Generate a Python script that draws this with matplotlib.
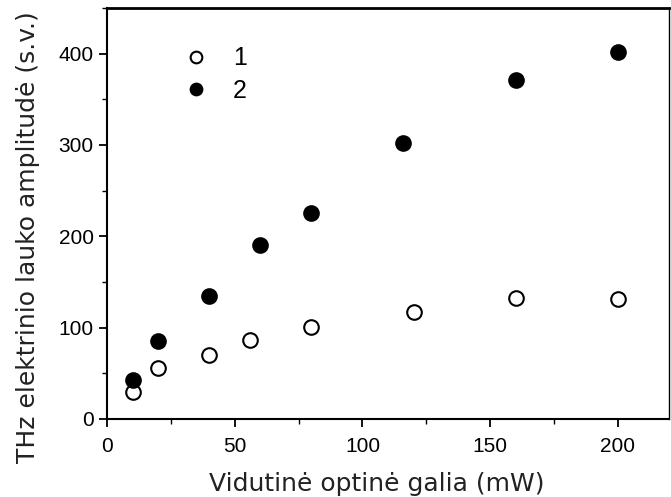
import matplotlib
matplotlib.use('Agg')
import matplotlib.pyplot as plt
from matplotlib.ticker import MultipleLocator

plt.rcParams['font.family'] = ['Liberation Sans', 'DejaVu Sans']

# duomenys
galia_1 = [10, 20, 40, 56, 80, 120, 160, 200]
amplitude_1 = [30, 56, 70, 86, 101, 117, 132, 131]

galia_2 = [10, 20, 40, 60, 80, 116, 160, 200]
amplitude_2 = [43, 85, 135, 191, 226, 302, 371, 402]

fig = plt.figure(figsize=(6.71, 4.97), dpi=100)
ax = fig.add_axes([107 / 671, 78 / 497, (669 - 107) / 671, (419 - 8) / 497])

ax.plot(galia_1, amplitude_1, 'o', ms=10.5, mfc='white', mec='black', mew=1.5,
        linestyle='none', label='1')
ax.plot(galia_2, amplitude_2, 'o', ms=10.5, mfc='black', mec='black', mew=1.5,
        linestyle='none', label='2')

ax.set_xlim(0, 220)
ax.set_ylim(0, 450)
ax.xaxis.set_major_locator(MultipleLocator(50))
ax.xaxis.set_minor_locator(MultipleLocator(25))
ax.yaxis.set_major_locator(MultipleLocator(100))
ax.yaxis.set_minor_locator(MultipleLocator(50))
ax.tick_params(which='major', direction='out', length=6, width=1.3, labelsize=15)
ax.tick_params(axis='x', which='major', pad=7)
ax.tick_params(which='minor', direction='out', length=3.5, width=1.0)
for lbl in ax.get_xticklabels() + ax.get_yticklabels():
    lbl.set_family('Liberation Sans')

for s in ['left', 'bottom']:
    ax.spines[s].set_linewidth(1.5)
ax.spines['top'].set_linewidth(2)
ax.spines['right'].set_linewidth(1)

ax.set_xlabel('Vidutinė optinė galia (mW)', fontsize=18, family='DejaVu Sans',
              color='#222222')
ax.set_ylabel('THz elektrinio lauko amplitudė (s.v.)', fontsize=18,
              family='DejaVu Sans', color='#222222')
ax.xaxis.set_label_coords(0.48, -0.128)
ax.yaxis.set_label_coords(-0.119, 0.443)

ax.legend(loc='upper left', bbox_to_anchor=(0.113, 0.937), frameon=False,
          borderpad=0, markerscale=0.8, handlelength=1.0, handletextpad=1.0,
          labelspacing=0.35, fontsize=18)

plt.savefig('out.png', dpi=100)
